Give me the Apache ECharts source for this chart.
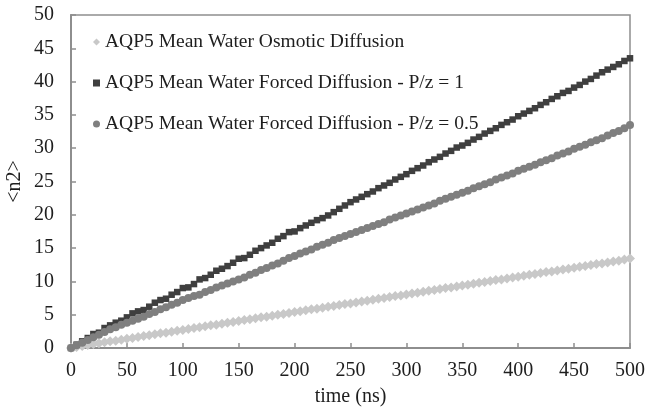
<!DOCTYPE html>
<html>
<head>
<meta charset="utf-8">
<script src="https://cdn.jsdelivr.net/npm/echarts@6/dist/echarts.min.js"></script>
<style>
  html, body { margin: 0; padding: 0; background: #fff; }
  #chart { width: 646px; height: 410px; }
</style>
</head>
<body>
<div id="chart"></div>
<script>
  // time in ns, one sample every 5 ns
  let timeNs = [];
  for (let i = 0; i <= 100; i++) timeNs.push(i * 5);

  let osmotic = [0, 0.15, 0.3, 0.45, 0.6, 0.7, 0.85, 1.0, 1.1, 1.25, 1.4, 1.5, 1.65, 1.8, 1.9, 2.05, 2.2, 2.3, 2.45, 2.6,
    2.7, 2.85, 3.0, 3.1, 3.25, 3.4, 3.5, 3.65, 3.8, 3.9, 4.05, 4.2, 4.3, 4.45, 4.6, 4.7, 4.85, 5.0, 5.1, 5.25,
    5.4, 5.5, 5.65, 5.8, 5.9, 6.05, 6.2, 6.3, 6.45, 6.6, 6.7, 6.85, 7.0, 7.1, 7.25, 7.4, 7.5, 7.65, 7.8, 7.9,
    8.05, 8.2, 8.3, 8.45, 8.6, 8.7, 8.85, 9.0, 9.1, 9.25, 9.4, 9.5, 9.65, 9.8, 9.9, 10.05, 10.2, 10.3, 10.45, 10.6,
    10.7, 10.85, 11.0, 11.1, 11.25, 11.4, 11.5, 11.65, 11.8, 11.9, 12.05, 12.2, 12.3, 12.45, 12.6, 12.7, 12.85, 13.0, 13.1, 13.3,
    13.45];

  let forced1 = [0, 0.5, 1.0, 1.5, 2.1, 2.3, 3.0, 3.4, 3.8, 4.1, 4.6, 5.2, 5.5, 5.7, 6.2, 6.8, 7.2, 7.4, 8.0, 8.4,
    9.0, 9.1, 9.6, 10.3, 10.5, 11.0, 11.6, 11.9, 12.3, 12.8, 13.4, 13.5, 14.0, 14.6, 15.0, 15.4, 15.8, 16.4, 16.8, 17.4,
    17.5, 18.0, 18.4, 18.8, 19.2, 19.5, 19.9, 20.4, 20.9, 21.4, 21.9, 22.3, 22.7, 23.1, 23.5, 24.0, 24.4, 24.8, 25.3, 25.7,
    26.1, 26.6, 27.0, 27.4, 27.9, 28.3, 28.7, 29.2, 29.6, 30.1, 30.4, 30.8, 31.3, 31.7, 32.2, 32.6, 33.0, 33.5, 33.9, 34.3,
    34.8, 35.2, 35.6, 36.0, 36.5, 36.9, 37.4, 37.8, 38.3, 38.6, 39.1, 39.5, 40.0, 40.4, 40.9, 41.4, 41.8, 42.2, 42.6, 43.1,
    43.5];

  let forced05 = [0, 0.4, 0.8, 1.2, 1.6, 2.0, 2.4, 2.8, 3.1, 3.5, 3.8, 4.1, 4.4, 4.7, 5.1, 5.4, 5.8, 6.1, 6.5, 6.8,
    7.2, 7.5, 7.8, 8.0, 8.4, 8.7, 9.1, 9.4, 9.7, 10.0, 10.3, 10.6, 11.0, 11.3, 11.7, 12.0, 12.4, 12.7, 13.1, 13.5,
    13.8, 14.2, 14.5, 14.8, 15.2, 15.5, 15.8, 16.2, 16.5, 16.8, 17.1, 17.4, 17.7, 18.0, 18.3, 18.6, 18.9, 19.3, 19.6, 19.9,
    20.2, 20.5, 20.8, 21.1, 21.4, 21.7, 22.1, 22.4, 22.7, 23.0, 23.3, 23.6, 24.0, 24.3, 24.6, 24.9, 25.3, 25.6, 25.9, 26.2,
    26.6, 26.9, 27.2, 27.5, 27.9, 28.2, 28.5, 28.9, 29.2, 29.5, 29.9, 30.2, 30.5, 30.9, 31.2, 31.5, 31.9, 32.3, 32.6, 33.0,
    33.5];

  let names = [
    'AQP5 Mean Water Osmotic Diffusion',
    'AQP5 Mean Water Forced Diffusion - P/z = 1',
    'AQP5 Mean Water Forced Diffusion - P/z = 0.5'
  ];

  const pairs = ys => ys.map((y, i) => [timeNs[i], y]);
  const font = 'Liberation Serif';
  const axisGray = '#8e8e8e';
  const ink = '#1e1e1e';

  let myChart = echarts.init(document.getElementById('chart'));
  myChart.setOption({
    animation: false,
    textStyle: {fontFamily: font},
    grid: {
      left: 71, right: 16, top: 15, bottom: 62,
      outerBoundsMode: 'none',
      show: true, borderColor: axisGray, borderWidth: 1.5
    },
    legend: {
      orient: 'vertical',
      left: 88,
      top: 27,
      itemGap: 21,
      itemWidth: 7,
      itemHeight: 7,
      textStyle: {fontFamily: font, fontSize: 19.5, color: ink},
      data: [
        {name: names[0], icon: 'diamond'},
        {name: names[1], icon: 'rect'},
        {name: names[2], icon: 'circle'}
      ]
    },
    xAxis: {
      type: 'value',
      min: 0, max: 500, interval: 50,
      name: 'time (ns)',
      nameLocation: 'middle',
      nameGap: 39,
      nameMoveOverlap: false,
      nameTextStyle: {fontFamily: font, fontSize: 20, color: ink},
      axisLine: {lineStyle: {color: axisGray, width: 2}},
      axisTick: {inside: true, length: 5, lineStyle: {color: axisGray, width: 1.5}},
      axisLabel: {fontFamily: font, fontSize: 20, color: ink, margin: 13},
      splitLine: {show: false}
    },
    yAxis: {
      type: 'value',
      min: 0, max: 50, interval: 5,
      name: '<n2>',
      nameLocation: 'middle',
      nameGap: 46,
      nameMoveOverlap: false,
      nameTextStyle: {fontFamily: font, fontSize: 20, color: ink},
      axisLine: {show: true, lineStyle: {color: axisGray, width: 2}},
      axisTick: {show: true, inside: true, length: 5, lineStyle: {color: axisGray, width: 1.5}},
      axisLabel: {fontFamily: font, fontSize: 20, color: ink, margin: 17},
      splitLine: {show: false}
    },
    series: [
      {
        name: names[0], type: 'line', data: pairs(osmotic),
        symbol: 'diamond', symbolSize: 10, showAllSymbol: true,
        lineStyle: {width: 0}, itemStyle: {color: '#c8c8c8'}, z: 2
      },
      {
        name: names[1], type: 'line', data: pairs(forced1),
        symbol: 'rect', symbolSize: 6.5, showAllSymbol: true,
        lineStyle: {width: 0}, itemStyle: {color: '#3f3f3f'}, z: 3
      },
      {
        name: names[2], type: 'line', data: pairs(forced05),
        symbol: 'circle', symbolSize: 8, showAllSymbol: true,
        lineStyle: {width: 0}, itemStyle: {color: '#7f7f7f'}, z: 4
      }
    ]
  });
</script>
</body>
</html>
